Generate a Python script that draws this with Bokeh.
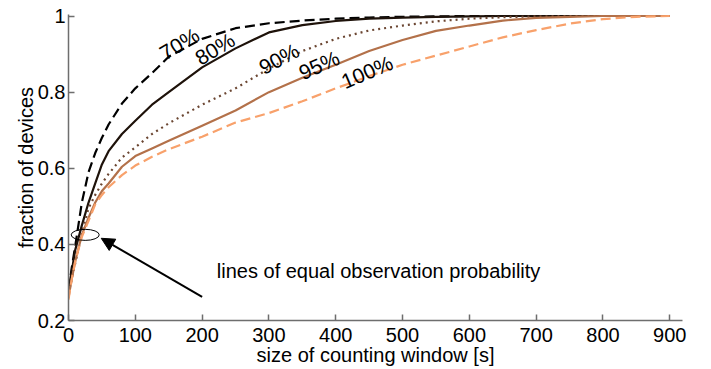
import math
from bokeh.plotting import figure
from bokeh.models import (FixedTicker, CustomJSTickFormatter, Arrow, NormalHead,
                          Range1d, ColumnDataSource)
from bokeh.core.properties import value
from bokeh.embed import file_html
from bokeh.resources import INLINE

# ---- data ----
window_s = [0, 5, 10, 20, 30, 40, 50, 60, 80, 100, 125, 150, 200, 250, 300,
            350, 400, 450, 500, 550, 600, 650, 700, 750, 800, 850, 900]
frac_70 = [0.28, 0.34, 0.395, 0.51, 0.59, 0.64, 0.68, 0.715, 0.77, 0.81, 0.85,
           0.893, 0.94, 0.968, 0.981, 0.988, 0.993, 0.996, 0.998, 0.999, 1.0,
           1.0, 1.0, 1.0, 1.0, 1.0, 1.0]
frac_80 = [0.285, 0.33, 0.385, 0.45, 0.51, 0.56, 0.61, 0.645, 0.69, 0.725, 0.767,
           0.80, 0.865, 0.915, 0.957, 0.976, 0.987, 0.993, 0.996, 0.998, 0.999,
           1.0, 1.0, 1.0, 1.0, 1.0, 1.0]
frac_90 = [0.27, 0.31, 0.35, 0.43, 0.495, 0.53, 0.56, 0.585, 0.628, 0.655, 0.69,
           0.718, 0.767, 0.81, 0.862, 0.908, 0.94, 0.962, 0.975, 0.986, 0.993,
           0.997, 0.999, 1.0, 1.0, 1.0, 1.0]
frac_95 = [0.26, 0.31, 0.355, 0.425, 0.47, 0.51, 0.54, 0.56, 0.604, 0.632, 0.652,
           0.672, 0.712, 0.752, 0.80, 0.838, 0.872, 0.908, 0.937, 0.961, 0.975,
           0.988, 0.995, 0.998, 1.0, 1.0, 1.0]
frac_100 = [0.255, 0.31, 0.355, 0.42, 0.462, 0.505, 0.53, 0.55, 0.582, 0.607, 0.63,
            0.65, 0.683, 0.72, 0.745, 0.776, 0.81, 0.842, 0.872, 0.896, 0.92,
            0.944, 0.963, 0.98, 0.992, 0.998, 1.0]

curve_labels = ["70%", "80%", "90%", "95%", "100%"]
x_ticks = [0, 100, 200, 300, 400, 500, 600, 700, 800, 900]
y_ticks = [0.2, 0.4, 0.6, 0.8, 1.0]

# label placement (data coords) and rotation (degrees)
label_x = [166, 219, 315, 375, 447]
label_y = [0.927, 0.914, 0.888, 0.871, 0.853]
label_angle = [31, 31, 28, 24, 23]

annotation_text = "lines of equal observation probability"
x_title = "size of counting window [s]"
y_title = "fraction of devices"

FONT = "Liberation Sans"

p = figure(width=711, height=369, output_backend="svg", toolbar_location=None,
           x_range=Range1d(0, 919), y_range=Range1d(0.2, 1.004),
           min_border_left=68, min_border_right=29, min_border_top=14,
           min_border_bottom=49)
p.outline_line_color = None
p.xgrid.visible = False
p.ygrid.visible = False
p.background_fill_color = "white"
p.border_fill_color = "white"

series = [
    (frac_70, "#000000", "10 5"),
    (frac_80, "#1e120a", None),
    (frac_90, "#6b4632", "2 4"),
    (frac_95, "#b3714a", None),
    (frac_100, "#f8a16b", "10 5"),
]
for ys, col, dash in series:
    kw = dict(line_color=col, line_width=2.2)
    if dash:
        kw["line_dash"] = dash
    p.line(window_s, ys, **kw)

src = ColumnDataSource(dict(x=label_x, y=label_y, t=curve_labels,
                            a=[math.radians(a) for a in label_angle]))
p.text(x="x", y="y", text="t", angle="a", source=src,
       text_font=value(FONT), text_font_size="21px", text_color="black",
       text_align="center", text_baseline="middle")

# ellipse and arrow
p.ellipse(x=[25], y=[0.425], width=[42], height=[0.029], fill_color=None,
          line_color="black", line_width=1)
p.add_layout(Arrow(end=NormalHead(size=13, fill_color="black", line_color="black"),
                   x_start=200, y_start=0.262, x_end=49, y_end=0.416,
                   line_color="black", line_width=2))
p.text(x=[222], y=[0.331], text=[annotation_text], text_font=value(FONT),
       text_font_size="20px", text_color="black", text_align="left",
       text_baseline="middle")

for ax in (p.xaxis[0], p.yaxis[0]):
    ax.axis_line_color = "#6e6e6e"
    ax.axis_line_width = 1.5
    ax.major_tick_line_color = "#6e6e6e"
    ax.major_tick_line_width = 1.5
    ax.major_tick_in = 6
    ax.major_tick_out = 0
    ax.minor_tick_line_color = None
    ax.major_label_text_font = FONT
    ax.major_label_text_font_size = "20px"
    ax.major_label_text_color = "black"
    ax.axis_label_text_font = FONT
    ax.axis_label_text_font_size = "20px"
    ax.axis_label_text_font_style = "normal"
    ax.axis_label_text_color = "black"

p.xaxis[0].ticker = FixedTicker(ticks=x_ticks)
p.yaxis[0].ticker = FixedTicker(ticks=y_ticks)
p.yaxis[0].formatter = CustomJSTickFormatter(
    code="return Math.abs(tick - 1) < 1e-9 ? '1' : tick.toFixed(1);")
p.xaxis[0].axis_label = x_title
p.yaxis[0].axis_label = y_title
p.xaxis[0].major_label_standoff = 7
p.xaxis[0].axis_label_standoff = -1
p.yaxis[0].major_label_standoff = 3
p.yaxis[0].axis_label_standoff = -2

open("out.html", "w").write(file_html(p, INLINE))
